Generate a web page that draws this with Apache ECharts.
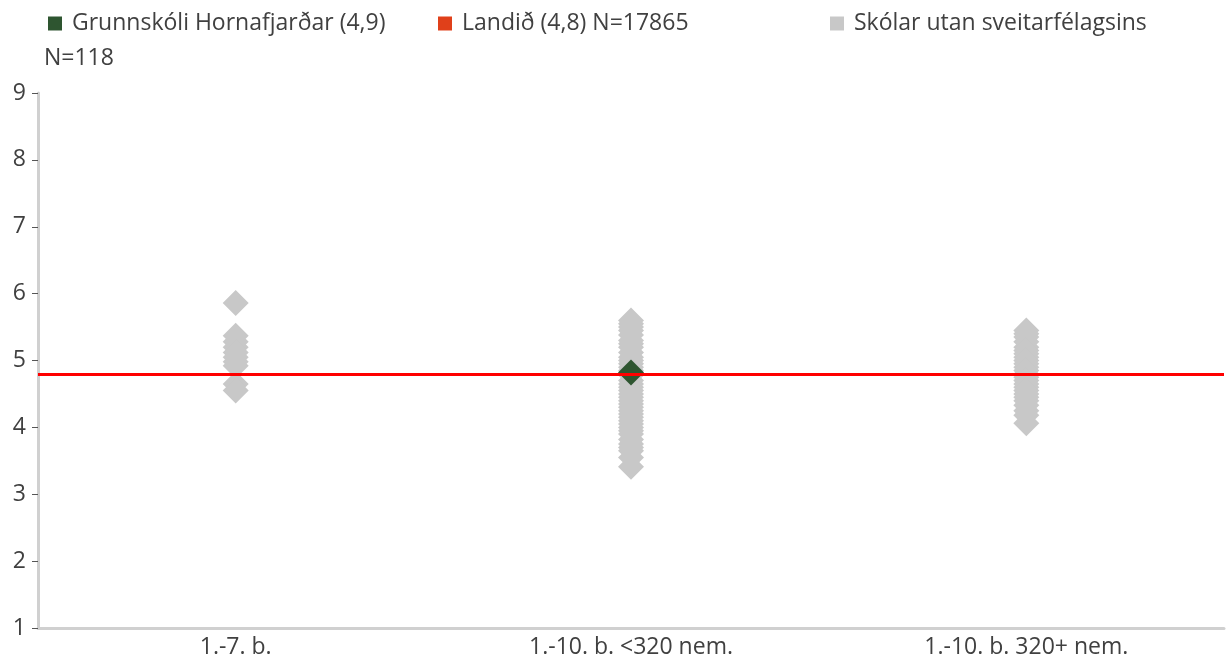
<!DOCTYPE html>
<html>
<head>
<meta charset="utf-8">
<script src="https://cdn.jsdelivr.net/npm/echarts@6/dist/echarts.min.js"></script>
<style>html,body{margin:0;padding:0;background:#fff}#c{width:1228px;height:659px}</style>
</head>
<body>
<div id="c"></div>
<script>
const categories = ['1.-7. b.', '1.-10. b. <320 nem.', '1.-10. b. 320+ nem.'];
const yTicks = [1, 2, 3, 4, 5, 6, 7, 8, 9];
const schoolName = 'Grunnskóli Hornafjarðar (4,9)';
const schoolN = 'N=118';
const nationName = 'Landið (4,8) N=17865';
const otherName = 'Skólar utan sveitarfélagsins';
const nationValue = 4.8;
const schoolValues = [[1, 4.82]];
const otherCat1 = [5.86, 5.37, 5.28, 5.2, 5.12, 5.05, 4.98, 4.92, 4.65, 4.55];
const otherCat2 = [5.6, 5.55, 5.5, 5.45, 5.38, 5.3, 5.25, 5.2, 5.12, 5.05, 5.0, 4.95, 4.9, 4.85, 4.78, 4.7, 4.65, 4.6, 4.55, 4.5, 4.45, 4.4, 4.35, 4.3, 4.25, 4.2, 4.15, 4.1, 4.05, 4.0, 3.95, 3.9, 3.82, 3.75, 3.7, 3.65, 3.55, 3.41];
const otherCat3 = [5.45, 5.4, 5.35, 5.28, 5.2, 5.15, 5.1, 5.05, 5.0, 4.95, 4.9, 4.85, 4.8, 4.75, 4.7, 4.65, 4.6, 4.55, 4.5, 4.45, 4.4, 4.33, 4.25, 4.18, 4.06];

const otherData = [];
[otherCat1, otherCat2, otherCat3].forEach((arr, i) => arr.forEach(v => otherData.push([i, v])));

const font = '"Open Sans", sans-serif';
const txt = '#404040';
const fs = 23;
const legendBase = {
  top: 12, itemWidth: 14, itemHeight: 14, icon: 'rect', selectedMode: false, padding: 0,
  textStyle: { fontFamily: font, fontSize: fs, color: txt, padding: [0, 0, 0, 5] }
};

const chart = echarts.init(document.getElementById('c'));
chart.setOption({
  animation: false,
  legend: [
    Object.assign({}, legendBase, { left: 48, data: [schoolName] }),
    Object.assign({}, legendBase, { left: 438, data: [nationName] }),
    Object.assign({}, legendBase, { left: 830, data: [otherName] })
  ],
  graphic: [{ type: 'text', left: 44, top: 47, style: { text: schoolN, fontFamily: font, fontSize: fs, fill: txt } }],
  grid: { left: 38, right: 4, top: 93, bottom: 31, containLabel: false },
  xAxis: {
    type: 'category', data: categories, boundaryGap: true,
    axisLine: { lineStyle: { color: '#d0d0d0', width: 3 } },
    axisTick: { show: false },
    axisLabel: { fontFamily: font, fontSize: fs, color: txt, margin: 8 }
  },
  yAxis: {
    type: 'value', min: yTicks[0], max: yTicks[yTicks.length - 1], interval: 1,
    splitLine: { show: false },
    axisLine: { show: true, lineStyle: { color: '#d0d0d0', width: 3 } },
    axisTick: { show: true, length: 6, lineStyle: { color: '#555', width: 1 } },
    axisLabel: { fontFamily: font, fontSize: fs, color: txt, margin: 12 }
  },
  series: [
    {
      name: nationName, type: 'scatter', data: [], z: 1,
      itemStyle: { color: '#e0401a', opacity: 1 },
      markLine: {
        silent: true, symbol: 'none', label: { show: false },
        lineStyle: { color: '#ff0000', width: 3, type: 'solid', opacity: 1 },
        data: [{ yAxis: nationValue }]
      }
    },
    {
      name: otherName, type: 'scatter', data: otherData, z: 3,
      symbol: 'diamond', symbolSize: 26,
      itemStyle: { color: '#c8c8c8', opacity: 1 }
    },
    {
      name: schoolName, type: 'scatter', data: schoolValues, z: 4,
      symbol: 'diamond', symbolSize: 26,
      itemStyle: { color: '#2e5530', opacity: 1 }
    }
  ]
});
</script>
</body>
</html>
